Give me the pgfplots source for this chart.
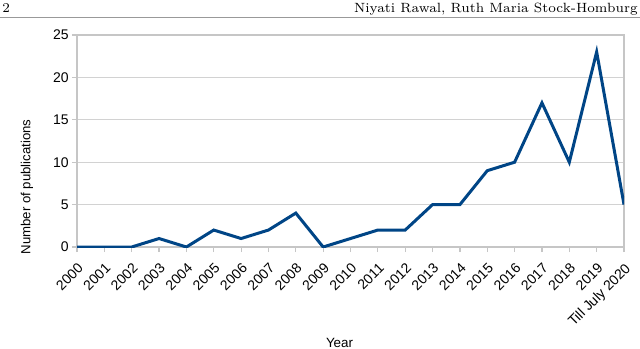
\documentclass[border=0pt]{standalone}
\usepackage{fontspec}
\usepackage{pgfplots}
\pgfplotsset{compat=1.18}
\newfontfamily\arial{Liberation Sans}
\definecolor{lineblue}{HTML}{004586}

\begin{document}
\begin{tikzpicture}
  % page frame: 640x348 px at 0.5pt per px, origin top left
  \useasboundingbox (0,0) rectangle (320pt,-174pt);
  \node[anchor=base west, inner sep=0pt, font=\fontsize{6.7}{7.5}\selectfont] at (1pt,-6pt) {2};
  \node[anchor=base east, inner sep=0pt, font=\fontsize{6.7}{7.5}\selectfont] at (319pt,-6pt) {Niyati Rawal, Ruth Maria Stock-Homburg};
  \draw[gray!80, line width=0.5pt] (0,-8.5pt) -- (320pt,-8.5pt);

  \begin{axis}[
    at={(38.5pt,-123.5pt)}, anchor=south west,
    scale only axis, width=273.5pt, height=106pt,
    xmin=0, xmax=20, ymin=0, ymax=25,
    xtick={0,...,20},
    xticklabels={2000,2001,2002,2003,2004,2005,2006,2007,2008,2009,2010,
                 2011,2012,2013,2014,2015,2016,2017,2018,2019,Till July 2020},
    ytick={0,5,...,25},
    ymajorgrids, grid style={gray!35, line width=0.6pt},
    axis line style={gray!45, line width=0.6pt},
    tick style={gray!45, line width=0.6pt},
    tick align=outside, major tick length=2.5pt,
    xtick pos=bottom, ytick pos=left,
    /pgf/number format/assume math mode=true,
    ticklabel style={font=\arial\fontsize{7}{8}\selectfont},
    xticklabel style={rotate=45, anchor=north east, inner sep=1pt},
    xticklabel shift=3.5pt,
    yticklabel style={inner sep=1.5pt},
    xlabel={Year}, ylabel={Number of publications},
    every axis x label/.style={at={(axis description cs:0.48,-0.4528)}, anchor=center,
      font=\arial\fontsize{6.7}{8}\selectfont},
    every axis y label/.style={at={(axis description cs:-0.0914,0.283)}, rotate=90, anchor=center,
      font=\arial\fontsize{6.6}{8}\selectfont},
  ]
  \addplot[lineblue, line width=1.5pt, line join=miter, mark=none]
    coordinates { (0,0) (1,0) (2,0) (3,1) (4,0) (5,2) (6,1) (7,2) (8,4) (9,0)
                  (10,1) (11,2) (12,2) (13,5) (14,5) (15,9) (16,10) (17,17)
                  (18,10) (19,23) (20,5) };
  \end{axis}
\end{tikzpicture}
\end{document}
